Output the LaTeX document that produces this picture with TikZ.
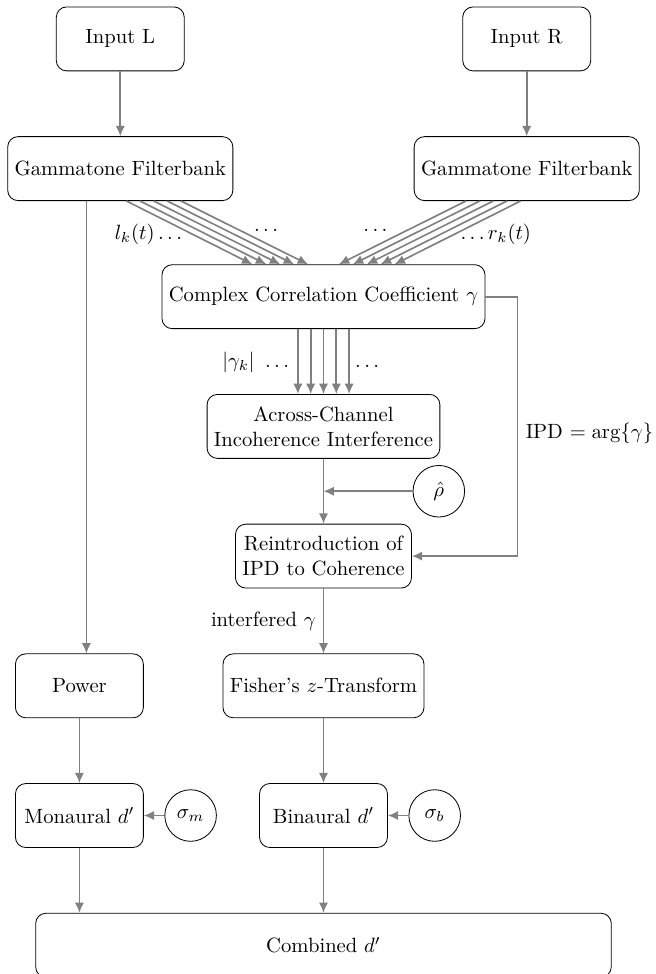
\documentclass[tikz,border=0pt]{standalone}
\usepackage{amsmath,amssymb}
\usepackage{tikz}
\usetikzlibrary{arrows.meta, positioning, calc}

\begin{document}
\begin{tikzpicture}[node distance=31.47pt and 10pt,
    block/.style={rectangle, draw=black, rounded corners=5pt,
                  minimum width=62pt, minimum height=31pt,
                  align=center, inner sep=3.33pt},
    param/.style={circle, draw=black, minimum size=25pt, inner sep=1pt},
    lbl/.style={inner sep=0pt},
    arrow/.style={-{Latex[length=5pt,width=4.5pt]}, draw=gray, line width=0.8pt}
]
\useasboundingbox (-156.8pt,143.8pt) rectangle (160.7pt,-328.3pt);

% --- inputs and filterbanks ---
\node (inl) [block] at (-98.5pt,124.94pt) {Input L};
\node (inr) [block] at (98.5pt,124.94pt) {Input R};
\node (gfl) [block, below=of inl] {Gammatone Filterbank};
\node (gfr) [block, below=of inr] {Gammatone Filterbank};

% --- binaural path ---
\node (ccc) [block] at (0,0) {Complex Correlation Coefficient $\gamma$};
\node (acr) [block, below=of ccc] {Across-Channel\\Incoherence Interference};
\node (rei) [block, below=of acr] {Reintroduction of\\IPD to Coherence};
\node (fis) [block, below=of rei] {Fisher's $z$-Transform};
\node (bin) [block, below=of fis] {Binaural $d'$};
\node (comb) [block, below=of bin, minimum width=279pt] {Combined $d'$};

% --- monaural path ---
\node (pow) [block, left=38.2pt of fis] {Power};
\node (mon) [block, below=of pow] {Monaural $d'$};

% --- parameters ---
\node (rho) [param, xshift=55.9pt] at ($(acr.south)!0.5!(rei.north)$) {$\hat{\rho}$};
\node (sgm) [param, right=of mon] {$\sigma_m$};
\node (sgb) [param, right=of bin] {$\sigma_b$};

% --- arrows ---
\draw [arrow] (inl) -- (gfl);
\draw [arrow] (inr) -- (gfr);
\draw [arrow] ([xshift=3.4pt]gfl.south -| pow.north) -- ([xshift=3.4pt]pow.north);

\draw [arrow] ([xshift=3pt]gfl.south) -- ([xshift=-34.5pt]ccc.north);
\draw [arrow] ([xshift=9.6pt]gfl.south) -- ([xshift=-27.75pt]ccc.north);
\draw [arrow] ([xshift=16.2pt]gfl.south) -- ([xshift=-21pt]ccc.north);
\draw [arrow] ([xshift=22.8pt]gfl.south) -- ([xshift=-14.25pt]ccc.north);
\draw [arrow] ([xshift=29.4pt]gfl.south) -- ([xshift=-7.5pt]ccc.north);

\draw [arrow] ([xshift=-3pt]gfr.south) -- ([xshift=34.5pt]ccc.north);
\draw [arrow] ([xshift=-9.6pt]gfr.south) -- ([xshift=27.75pt]ccc.north);
\draw [arrow] ([xshift=-16.2pt]gfr.south) -- ([xshift=21pt]ccc.north);
\draw [arrow] ([xshift=-22.8pt]gfr.south) -- ([xshift=14.25pt]ccc.north);
\draw [arrow] ([xshift=-29.4pt]gfr.south) -- ([xshift=7.5pt]ccc.north);

\draw [arrow] ([xshift=-12.4pt]ccc.south) -- ([xshift=-12.4pt]acr.north);
\draw [arrow] ([xshift=-6.2pt]ccc.south) -- ([xshift=-6.2pt]acr.north);
\draw [arrow] (ccc.south) -- (acr.north);
\draw [arrow] ([xshift=6.2pt]ccc.south) -- ([xshift=6.2pt]acr.north);
\draw [arrow] ([xshift=12.4pt]ccc.south) -- ([xshift=12.4pt]acr.north);

\draw [arrow] (acr) -- (rei);
\draw [arrow] (rho.west) -- (rho.west -| acr.south);
\draw [arrow] (ccc.east) -- ++(15.5pt,0) coordinate (ipdc) |- (rei.east);
\draw [arrow] (rei) -- node [left] {interfered $\gamma$} (fis);
\draw [arrow] (fis) -- (bin);
\draw [arrow] (pow) -- (mon);
\draw [arrow] (sgm) -- (mon);
\draw [arrow] (sgb) -- (bin);
\draw [arrow] (mon.south) -- (mon.south |- comb.north);
\draw [arrow] (bin.south) -- (bin.south |- comb.north);

% --- channel labels ---
\node (lkt) [lbl, anchor=base] at ([xshift=-84pt,yshift=12pt]ccc.north) {$l_k(t)\dots$};
\node (ldt) [lbl, anchor=base] at ([xshift=-27pt,yshift=16pt]ccc.north) {$\dots$};
\node (rdt) [lbl, anchor=base] at ([xshift=26pt,yshift=16pt]ccc.north) {$\dots$};
\node (rkt) [lbl, anchor=base] at ([xshift=83.5pt,yshift=12pt]ccc.north) {$\dots r_k(t)$};
\node (gkl) [lbl, anchor=base] at ([xshift=-32pt,yshift=-18.4pt]ccc.south) {$|\gamma_k|\ \dots$};
\node (gkr) [lbl, anchor=base] at ([xshift=22pt,yshift=-18.4pt]ccc.south) {$\dots$};
\node (ipd) [anchor=west] at ([xshift=0.5pt,yshift=-3.5pt]ipdc |- acr) {IPD $=\arg\{\gamma\}$};
\end{tikzpicture}
\end{document}
